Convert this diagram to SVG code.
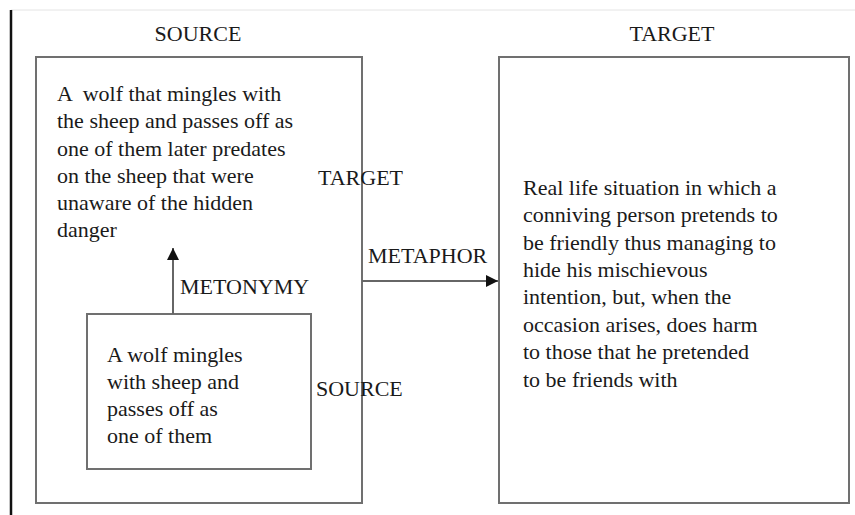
<svg xmlns="http://www.w3.org/2000/svg" width="855" height="515" viewBox="0 0 855 515">
<defs>
<style>
text{font-family:"Liberation Serif","Times New Roman",serif;font-size:22px;fill:#1a1a1a;white-space:pre}
.box{fill:none;stroke:#707070;stroke-width:2}
.conn{stroke:#666;stroke-width:2;fill:none}
</style>
<marker id="ah" viewBox="0 0 12 12" refX="12" refY="6" markerWidth="12" markerHeight="12" markerUnits="userSpaceOnUse" orient="auto">
<path d="M0,0 L12,6 L0,12 Z" fill="#111"/>
</marker>
</defs>
<rect width="855" height="515" fill="#fff"/>
<line x1="11" y1="10" x2="855" y2="10" stroke="#e4e4e4" stroke-width="1"/>
<line x1="11" y1="10" x2="11" y2="515" stroke="#111" stroke-width="2.5"/>
<g id="source-label"><text x="198" y="41" text-anchor="middle">SOURCE</text></g>
<g id="target-label"><text x="672" y="41" text-anchor="middle">TARGET</text></g>
<g id="source-box">
<rect class="box" x="36" y="57" width="326" height="446"/>
<text x="57" y="101" xml:space="preserve">A  wolf that mingles with</text>
<text x="57" y="128">the sheep and passes off as</text>
<text x="57" y="156">one of them later predates</text>
<text x="57" y="183">on the sheep that were</text>
<text x="57" y="210">unaware of the hidden</text>
<text x="57" y="237">danger</text>
</g>
<g id="inner-box">
<rect class="box" x="87" y="314" width="224" height="155"/>
<text x="107" y="362">A wolf mingles</text>
<text x="107" y="389">with sheep and</text>
<text x="107" y="416">passes off as</text>
<text x="107" y="443">one of them</text>
</g>
<g id="target-box">
<rect class="box" x="499" y="57" width="350" height="446"/>
<text x="523" y="195">Real life situation in which a</text>
<text x="523" y="222">conniving person pretends to</text>
<text x="523" y="250">be friendly thus managing to</text>
<text x="523" y="277">hide his mischievous</text>
<text x="523" y="304">intention, but, when the</text>
<text x="523" y="332">occasion arises, does harm</text>
<text x="523" y="359">to those that he pretended</text>
<text x="523" y="387">to be friends with</text>
</g>
<g id="connectors">
<line class="conn" x1="173" y1="314" x2="173" y2="248" marker-end="url(#ah)"/>
<line class="conn" x1="362" y1="281" x2="498" y2="281" marker-end="url(#ah)"/>
</g>
<g id="labels">
<text x="180" y="294">METONYMY</text>
<text x="368" y="263">METAPHOR</text>
<text x="318" y="185">TARGET</text>
<text x="316" y="396">SOURCE</text>
</g>
</svg>
